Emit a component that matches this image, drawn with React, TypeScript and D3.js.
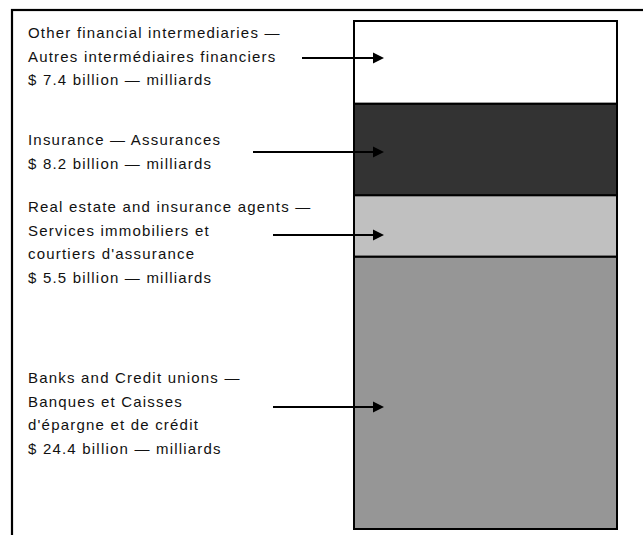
import React from "react";
import * as d3 from "d3";

// bottom to top in the stacked bar
const sectors = ["banks", "realEstate", "insurance", "other"];
const values = [24.4, 5.5, 8.2, 7.4];
const fills = ["#969696", "#c0c0c0", "#333333", "#ffffff"];
const labelLines = [
  ["Banks and Credit unions —", "Banques et Caisses", "d'épargne et de crédit", "$ 24.4 billion — milliards"],
  ["Real estate and insurance agents —", "Services immobiliers et", "courtiers d'assurance", "$ 5.5  billion — milliards"],
  ["Insurance — Assurances", "$ 8.2 billion — milliards"],
  ["Other financial intermediaries —", "Autres intermédiaires financiers", "$ 7.4 billion — milliards"],
];

const W = 643;
const H = 535;
const barX0 = 354;
const barX1 = 617;
const barTop = 21;
const barBottom = 529;
const lineH = 23.5;
// layout of the label blocks: first baseline, arrow y, arrow start x
const labelTop = [383, 212, 145, 38];
const arrowY = [407, 235, 152, 58];
const arrowX0 = [273, 273, 253, 302];
const arrowTip = 384;

const App = () => {
  const total = d3.sum(values);
  const y = d3.scaleLinear().domain([0, total]).range([barBottom, barTop]);
  const stacked = d3
    .stack<Record<string, number>>()
    .keys(sectors)([Object.fromEntries(sectors.map((k, i) => [k, values[i]]))]);

  return (
    <svg width={W} height={H} style={{ position: "absolute", left: 0, top: 0 }}>
      <rect x={0} y={0} width={W} height={H} fill="#fff" />
      <rect x={12} y={10} width={W + 20} height={H + 20} fill="none" stroke="#000" strokeWidth={2.2} />
      {stacked.map((s, i) => (
        <rect
          key={s.key}
          x={barX0}
          y={y(s[0][1])}
          width={barX1 - barX0}
          height={y(s[0][0]) - y(s[0][1])}
          fill={fills[i]}
          stroke="#000"
          strokeWidth={2}
        />
      ))}
      <g fontFamily="'Liberation Sans', Arial, sans-serif" fontSize={15} letterSpacing={1.2} fill="#111">
        {labelLines.map((lines, i) => (
          <text key={sectors[i]} x={28} y={labelTop[i]}>
            {lines.map((l, j) => (
              <tspan key={j} x={28} y={labelTop[i] + j * lineH}>
                {l}
              </tspan>
            ))}
          </text>
        ))}
      </g>
      {sectors.map((k, i) => (
        <g key={k}>
          <line x1={arrowX0[i]} x2={arrowTip - 10} y1={arrowY[i]} y2={arrowY[i]} stroke="#000" strokeWidth={2} />
          <path
            d={`M${arrowTip},${arrowY[i]} L${arrowTip - 11},${arrowY[i] - 5.5} L${arrowTip - 11},${arrowY[i] + 5.5} Z`}
            fill="#000"
          />
        </g>
      ))}
    </svg>
  );
};

export default App;
